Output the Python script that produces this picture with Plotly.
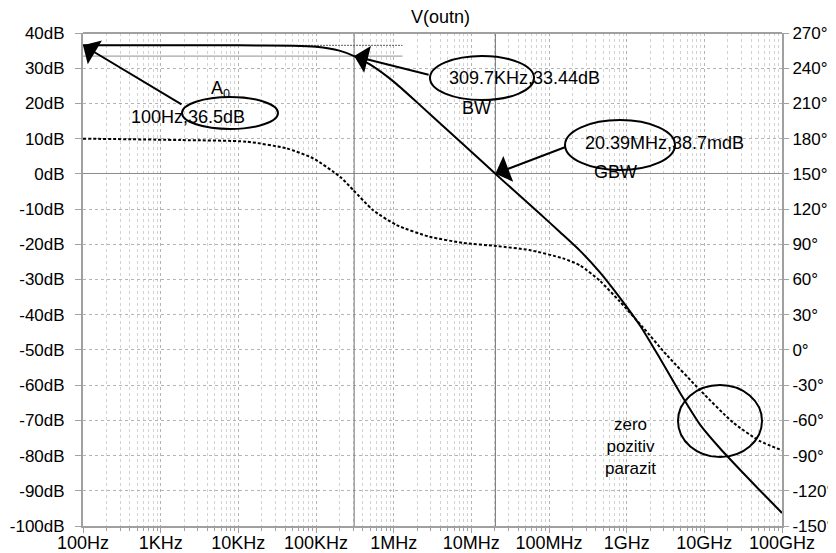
import plotly.graph_objects as go
import numpy as np

# ---- data ----
mag_freq = [1e2, 1e4, 5e4, 1e5, 2e5, 3.097e5, 5e5, 1e6, 2e6, 5e6, 1e7, 2.039e7, 7.7e7, 1.38e8,
            2.5e8, 4.5e8, 8.2e8, 1.5e9, 2.7e9, 4.9e9, 8.8e9, 1.6e10, 2.9e10, 5.2e10, 1e11]
mag_db = [36.5, 36.5, 36.4, 36.1, 35.0, 33.44, 31.0, 26.2, 20.3, 12.3, 6.3, 0.0, -11.4, -16.5,
          -21.8, -27.9, -35.2, -43.2, -52.5, -62.3, -71.2, -78.0, -84.1, -89.9, -96.3]

ph_freq = [1e2, 1.8e3, 1.28e4, 4.17e4, 9.2e4, 2.04e5, 3.02e5, 5.45e5, 1.09e6, 2.9e6, 7.9e6,
           2.1e7, 5.6e7, 1.51e8, 2.51e8, 4.53e8, 8.2e8, 1.62e9, 3.3e9, 8.8e9, 2.34e10, 5.2e10, 1e11]
ph_deg = [180, 178.8, 177.4, 171.7, 163.2, 147.5, 136.2, 119, 106.4, 96.4, 91.2,
          88.5, 85.1, 78, 72, 58.8, 41.1, 19.2, -4.5, -34.2, -61.8, -77.7, -85.5]

x_tickvals = [1e2, 1e3, 1e4, 1e5, 1e6, 1e7, 1e8, 1e9, 1e10, 1e11]
x_ticktext = ["100Hz", "1KHz", "10KHz", "100KHz", "1MHz", "10MHz", "100MHz", "1GHz", "10GHz", "100GHz"]
y_tickvals = list(range(-100, 41, 10))
y_ticktext = [f"{v}dB" for v in y_tickvals]
y2_tickvals = list(range(-150, 271, 30))
y2_ticktext = [f"{v}°" for v in y2_tickvals]

# cursor points (freq, dB)
cursor_A0 = (1e2, 36.5)
cursor_BW = (3.097e5, 33.44)
cursor_GBW = (2.039e7, 0.0387)
cursor_span_end = 1.3e6

FONT = "Liberation Sans, Arial, sans-serif"
GRID = "#b4b4b4"
MINOR = "#d2d2d2"
AX = "#a0a0a0"

fig = go.Figure()

# cursor lines
for f in (cursor_BW[0], cursor_GBW[0]):
    fig.add_trace(go.Scatter(x=[f, f], y=[-100, 40], mode="lines",
                             line=dict(color="#707070", width=1), hoverinfo="skip", showlegend=False))
fig.add_trace(go.Scatter(x=[cursor_A0[0], cursor_span_end], y=[cursor_A0[1]] * 2, mode="lines",
                         line=dict(color="#606060", width=1, dash="2px,1px"), hoverinfo="skip", showlegend=False))
fig.add_trace(go.Scatter(x=[cursor_A0[0], cursor_span_end], y=[cursor_BW[1]] * 2, mode="lines",
                         line=dict(color="#909090", width=1), hoverinfo="skip", showlegend=False))

# magnitude
fig.add_trace(go.Scatter(x=mag_freq, y=mag_db, mode="lines",
                         line=dict(color="black", width=2, shape="spline", smoothing=0.6),
                         showlegend=False, name="|V(outn)|"))
# phase
fig.add_trace(go.Scatter(x=ph_freq, y=ph_deg, mode="lines", yaxis="y2",
                         line=dict(color="black", width=2, dash="3px,2px", shape="spline", smoothing=0.6),
                         showlegend=False, name="phase"))

lg = np.log10

annotations = []
def arrow(pt, ax, ay):
    annotations.append(dict(x=lg(pt[0]), y=pt[1], xref="x", yref="y", text="", showarrow=True,
                            ax=ax, ay=ay, arrowhead=1, arrowsize=2.3, arrowwidth=2, arrowcolor="black",
                            standoff=0))

arrow(cursor_A0, 100, 60)
arrow(cursor_BW, 76, 19)
arrow(cursor_GBW, 71, -27)

# page has an 8px body margin; figure is sized so the plot lands where the reference has it
OFF = 8
L, R, T, B = 83 - OFF, 782 - OFF, 33 - OFF, 526 - OFF
def px(xp): return (xp - OFF - L) / (R - L)
def py(yp): return (B - (yp - OFF)) / (B - T)

def label(x, y, text, size=18, xanchor="center"):
    annotations.append(dict(x=px(x), y=py(y), xref="paper", yref="paper", text=text, showarrow=False,
                            font=dict(family=FONT, size=size, color="black"), xanchor=xanchor, yanchor="middle"))

label(187.5, 117, "100Hz,36.5dB")
label(220, 89, "A<sub>0</sub>")
label(524, 78, "309.7KHz,33.44dB")
label(476, 108, "BW")
label(664, 143, "20.39MHz,38.7mdB")
label(615, 172, "GBW")
label(630, 446, "zero<br>pozitiv<br>parazit", size=17)
label(441, 17, "V(outn)")

shapes = []
def ellipse(cx, cy, rx, ry):
    shapes.append(dict(type="circle", xref="paper", yref="paper",
                       x0=px(cx - rx), x1=px(cx + rx), y0=py(cy + ry), y1=py(cy - ry),
                       line=dict(color="black", width=2)))

ellipse(230, 113, 48, 16)
ellipse(482, 78, 52, 22)
ellipse(620, 145, 55, 25)
ellipse(720, 421, 42, 36)

# top border
shapes.append(dict(type="line", xref="paper", yref="paper", x0=0, x1=1, y0=1, y1=1,
                   line=dict(color=AX, width=2)))

W, H = 836 - OFF, 553 - OFF
fig.update_layout(
    template="none",
    width=W, height=H,
    margin=dict(l=L, r=W - R, t=T, b=H - B, pad=0),
    paper_bgcolor="white", plot_bgcolor="white",
    font=dict(family=FONT, size=17, color="black"),
    annotations=annotations, shapes=shapes,
    xaxis=dict(type="log", range=[2, 11], tickvals=x_tickvals, ticktext=x_ticktext,
               showgrid=True, gridcolor=GRID, griddash="dot", gridwidth=1,
               ticks="outside", ticklen=5, tickcolor=AX, tickwidth=1,
               showline=True, linecolor=AX, linewidth=2, mirror=False,
               minor=dict(dtick="D1", showgrid=True, gridcolor=MINOR, griddash="dot",
                          ticks="outside", ticklen=3, tickcolor=AX),
               tickfont=dict(family=FONT, size=18), zeroline=False, automargin=False,
               ticklabelstandoff=-6),
    yaxis=dict(range=[-100, 40], tickvals=y_tickvals, ticktext=y_ticktext,
               showgrid=True, gridcolor=GRID, griddash="dot", gridwidth=1,
               ticks="outside", ticklen=6, tickcolor=AX, tickwidth=1,
               showline=True, linecolor=AX, linewidth=2, mirror=False,
               zeroline=True, zerolinecolor="#8c8c8c", zerolinewidth=1,
               tickfont=dict(family=FONT, size=17), automargin=False, ticklabelstandoff=7),
    yaxis2=dict(range=[-150, 270], tickvals=y2_tickvals, ticktext=y2_ticktext,
                overlaying="y", side="right", showgrid=False, zeroline=False,
                ticks="outside", ticklen=5, tickcolor=AX, tickwidth=1,
                showline=True, linecolor=AX, linewidth=2,
                tickfont=dict(family=FONT, size=17), automargin=False),
)

fig.write_html("out.html")
